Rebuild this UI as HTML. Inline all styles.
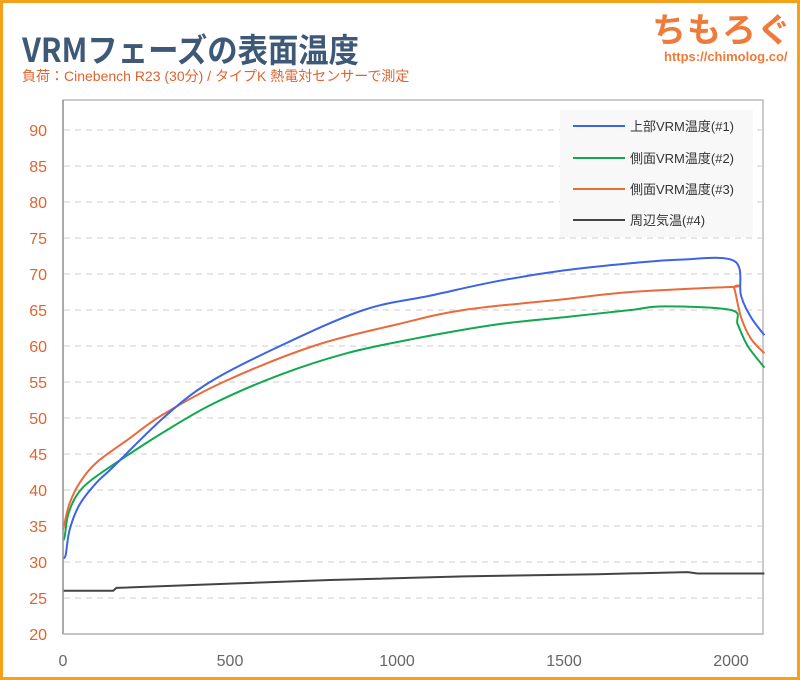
<!DOCTYPE html>
<html><head><meta charset="utf-8"><style>
body{margin:0;width:800px;height:680px;overflow:hidden;background:#fff;font-family:"Liberation Sans","Noto Sans CJK JP",sans-serif}
#frame{position:absolute;left:0;top:0;width:794px;height:674px;border:3px solid #f5a11c}
</style></head><body>
<div id="frame"></div>
<svg width="800" height="680" style="position:absolute;left:0;top:0" id="s">
<text x="24" y="62" font-size="33" font-weight="bold" fill="#3e5878" font-family="Liberation Sans Narrow,Noto Sans CJK JP,sans-serif" transform="scale(0.92,1)">VRMフェーズの表面温度</text>
<text x="22" y="81" font-size="14" fill="#e0642e" font-family="Liberation Sans,Noto Sans CJK JP,sans-serif">負荷：Cinebench R23 (30分) / タイプK 熱電対センサーで測定</text>
<text x="652" y="42" font-size="34" font-weight="bold" fill="#f07a3a" font-family="Noto Sans CJK JP,sans-serif" letter-spacing="1">ちもろぐ</text>
<text x="664" y="61" font-size="13" font-weight="bold" fill="#f07a3a" font-family="Liberation Sans Narrow,sans-serif">https://chimolog.co/</text>
<rect x="63" y="100" width="700" height="534" fill="#fff" stroke="#bbb" stroke-width="1.5"/>
<g id="grid"></g>
<rect x="560" y="110" width="193" height="127" fill="#f8f8f8"/>
<g font-size="13" fill="#333" font-family="Liberation Sans,Noto Sans CJK JP,sans-serif">
<line x1="573" x2="625" y1="126" y2="126" stroke="#3b64e6" stroke-width="2"/><text x="630" y="131">上部VRM温度(#1)</text>
<line x1="573" x2="625" y1="158" y2="158" stroke="#12a84e" stroke-width="2"/><text x="630" y="163">側面VRM温度(#2)</text>
<line x1="573" x2="625" y1="189" y2="189" stroke="#ea6a3c" stroke-width="2"/><text x="630" y="194">側面VRM温度(#3)</text>
<line x1="573" x2="625" y1="220" y2="220" stroke="#444" stroke-width="2"/><text x="630" y="225">周辺気温(#4)</text>
</g>
<g id="lines" fill="none" stroke-width="2"></g>
<line x1="63" x2="63" y1="100" y2="634" stroke="#999" stroke-width="1.5"/>
<line x1="63" x2="763" y1="634" y2="634" stroke="#bbb" stroke-width="1.5"/>
</svg>
<script>
var ns="http://www.w3.org/2000/svg",g=document.getElementById("grid"),L=document.getElementById("lines");
function Y(v){return 634-(v-20)*7.2}function X(t){return 63+t*0.334}
for(var v=20;v<=90;v+=5){var y=Y(v);
if(v>20){var l=document.createElementNS(ns,"line");l.setAttribute("x1",64);l.setAttribute("x2",763);l.setAttribute("y1",y);l.setAttribute("y2",y);l.setAttribute("stroke","#ccc");l.setAttribute("stroke-dasharray","6,5");g.appendChild(l);}
var t=document.createElementNS(ns,"text");t.setAttribute("x",47);t.setAttribute("y",y+6);t.setAttribute("text-anchor","end");t.setAttribute("font-size","16");t.setAttribute("fill","#e0642e");t.setAttribute("font-family","Liberation Sans Narrow,sans-serif");t.textContent=v;g.appendChild(t);}
[0,500,1000,1500,2000].forEach(function(k){var t=document.createElementNS(ns,"text");t.setAttribute("x",X(k));t.setAttribute("y",666);t.setAttribute("text-anchor","middle");t.setAttribute("font-size","16");t.setAttribute("fill","#666");t.setAttribute("font-family","Liberation Sans Narrow,sans-serif");t.textContent=k;g.appendChild(t);});
var S=[
["#444",[[0,26],[150,26],[160,26.4],[500,27],[800,27.5],[1200,28],[1600,28.3],[1870,28.6],[1900,28.4],[2100,28.4]],0],
["#12a84e",[[0,33],[5,33.5],[15,36.5],[40,39.2],[80,41.2],[160,43.8],[300,48],[450,52],[650,56],[850,59],[1050,61],[1300,63],[1500,64],[1700,65],[1800,65.5],[2000,65],[2020,63],[2050,60],[2100,57]],1],
["#ea6a3c",[[0,34.5],[5,35.5],[20,38.2],[50,41],[100,43.8],[200,47.2],[300,50.5],[480,55],[750,60],[1000,63],[1200,65],[1500,66.5],[1700,67.5],[2000,68.2],[2010,68],[2030,64],[2060,61],[2100,59]],1],
["#3b64e6",[[0,30.5],[8,31],[20,34.5],[50,38],[100,41],[150,43.2],[300,50],[440,55],[650,60],[900,65],[1100,67],[1300,69],[1500,70.5],[1700,71.5],[1850,72],[2010,71.8],[2030,67],[2060,64],[2100,61.5]],1]];
S.forEach(function(s){var P=s[1].map(function(p){return[X(p[0]),Y(p[1])]}),d="M"+P[0][0]+","+P[0][1];
for(var i=0;i<P.length-1;i++){var p0=P[Math.max(i-1,0)],p1=P[i],p2=P[i+1],p3=P[Math.min(i+2,P.length-1)];
if(s[2]){d+="C"+(p1[0]+(p2[0]-p0[0])/6).toFixed(1)+","+(p1[1]+(p2[1]-p0[1])/6).toFixed(1)+" "+(p2[0]-(p3[0]-p1[0])/6).toFixed(1)+","+(p2[1]-(p3[1]-p1[1])/6).toFixed(1)+" "+p2[0].toFixed(1)+","+p2[1].toFixed(1);}
else d+="L"+p2[0].toFixed(1)+","+p2[1].toFixed(1);}
var p=document.createElementNS(ns,"path");p.setAttribute("d",d);p.setAttribute("stroke",s[0]);L.appendChild(p);});
</script>
</body></html>
